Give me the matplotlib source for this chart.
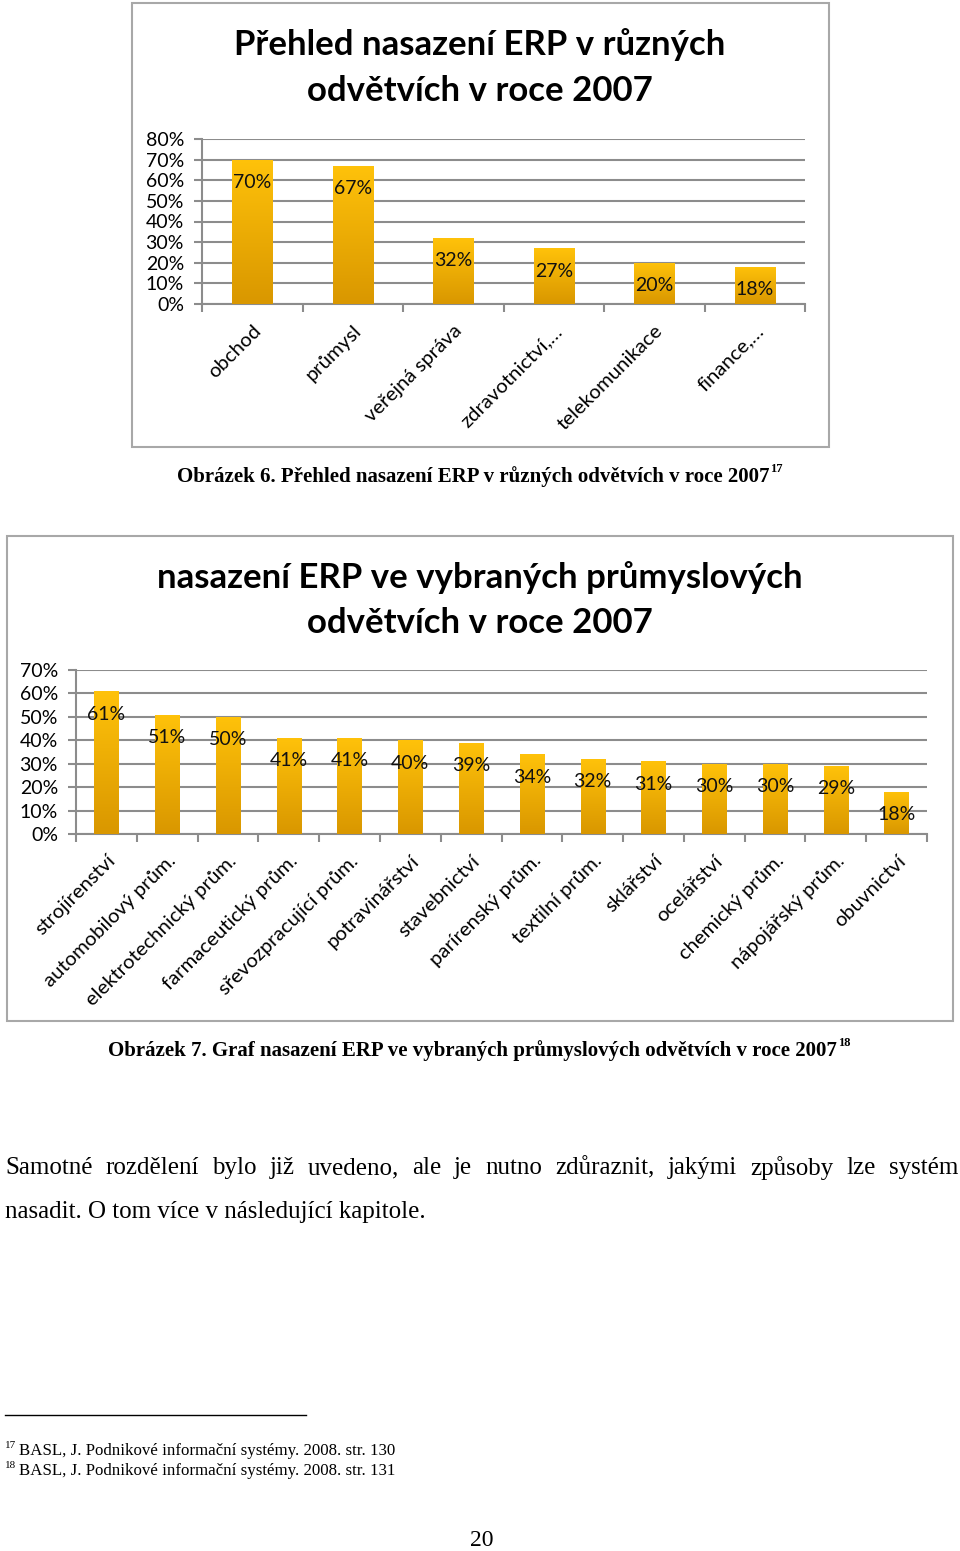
# -*- coding: utf-8 -*-
"""
Page with two ERP deployment bar charts (Czech thesis page)
"""
import matplotlib.pyplot as plt
import numpy as np
from matplotlib.patches import Rectangle

W, H, dpi = 960, 1551, 100
chart_font = ['Lato', 'DejaVu Sans']
page_font = ['Liberation Serif', 'DejaVu Serif']

# chart 1 data
sectors = ['obchod', 'průmysl', 'veřejná správa', 'zdravotnictví,…',
           'telekomunikace', 'finance,…']
sector_share = [70, 67, 32, 27, 20, 18]

# chart 2 data
industries = ['strojírenství', 'automobilový prům.', 'elektrotechnický prům.',
              'farmaceutický prům.', 'sřevozpracující prům.', 'potravinářství',
              'stavebnictví', 'parírenský prům.', 'textilní prům.', 'sklářství',
              'ocelářství', 'chemický prům.', 'nápojářský prům.', 'obuvnictví']
industry_share = [61, 51, 50, 41, 41, 40, 39, 34, 32, 31, 30, 30, 29, 18]

title1 = ['Přehled nasazení ERP v různých', 'odvětvích v roce 2007']
title2 = ['nasazení ERP ve vybraných průmyslových', 'odvětvích v roce 2007']
caption1 = 'Obrázek 6. Přehled nasazení ERP v různých odvětvích v roce 2007'
caption2 = 'Obrázek 7. Graf nasazení ERP ve vybraných průmyslových odvětvích v roce 2007'
body1 = 'Samotné rozdělení bylo již uvedeno, ale je nutno zdůraznit, jakými způsoby lze systém'
body2 = 'nasadit. O tom více v následující kapitole.'
footnotes = [('17', 'BASL, J. Podnikové informační systémy. 2008. str. 130'),
             ('18', 'BASL, J. Podnikové informační systémy. 2008. str. 131')]

fig = plt.figure(figsize=(W / dpi, H / dpi), dpi=dpi)
fig.patch.set_facecolor('white')

# page layer in pixel coordinates
page = fig.add_axes([0, 0, 1, 1])
page.set_xlim(0, W)
page.set_ylim(H, 0)
page.axis('off')
renderer = fig.canvas.get_renderer()


def right_edge(t):
    return t.get_window_extent(renderer=renderer).x1


def px_axes(left, top, right, bottom):
    return fig.add_axes([left / W, 1 - bottom / H, (right - left) / W, (bottom - top) / H])


grad = np.linspace(0, 1, 256).reshape(-1, 1)
cmap = plt.matplotlib.colors.LinearSegmentedColormap.from_list('gold', ['#D99700', '#FFC20A'])


def bar_chart(ax, labels, values, ymax, fs_y, fs_x, fs_lab):
    x = np.arange(len(values))
    bars = ax.bar(x, [v / 100 for v in values], width=0.4, color='#F5B400', zorder=2)
    for b in bars:
        im = ax.imshow(grad, cmap=cmap, origin='lower', aspect='auto', zorder=3,
                       extent=[b.get_x(), b.get_x() + b.get_width(), 0, b.get_height()])
        im.set_clip_path(b)
    for xi, v in zip(x, values):
        ax.annotate(f'{v}%', (xi, v / 100), xytext=(0, -16.5), textcoords='offset points',
                    ha='center', va='center', fontsize=fs_lab, family=chart_font,
                    color='#111111', zorder=5)
    ax.set_xlim(-0.5, len(values) - 0.5)
    ax.set_ylim(0, ymax)
    ax.set_yticks(np.arange(0, ymax + 0.001, 0.1))
    ax.set_yticklabels([f'{int(round(t * 100))}%' for t in np.arange(0, ymax + 0.001, 0.1)],
                       fontsize=fs_y, family=chart_font)
    ax.yaxis.grid(True, color='#8C8C8C', linewidth=1.5, zorder=1)
    ax.set_axisbelow(True)
    ax.set_xticks(x)
    ax.set_xticklabels(labels, rotation=45, ha='right', rotation_mode='anchor',
                       fontsize=fs_x, family=chart_font)
    ax.set_xticks(np.arange(-0.5, len(values)), minor=True)
    ax.tick_params(axis='x', which='major', length=0, pad=13)
    ax.tick_params(axis='x', which='minor', length=6, color='#8C8C8C', width=1.5)
    ax.tick_params(axis='y', length=6, color='#8C8C8C', width=1.5, pad=7)
    for s in ['top', 'right']:
        ax.spines[s].set_visible(False)
    for s in ['left', 'bottom']:
        ax.spines[s].set_color('#8C8C8C')
        ax.spines[s].set_linewidth(1.5)
    ax.set_facecolor('none')


# chart frames
page.add_patch(Rectangle((132, 3), 697, 444, fill=False, edgecolor='#A8A8A8', lw=1.5))
page.add_patch(Rectangle((7, 536), 946, 485, fill=False, edgecolor='#A8A8A8', lw=1.5))

ax1 = px_axes(202, 139, 805, 304)
bar_chart(ax1, sectors, sector_share, 0.8, 14, 14.6, 14)
for line, y in zip(title1, [45, 91]):
    page.text(480, y, line, ha='center', va='center', fontsize=25, fontweight='bold',
              family=chart_font)

ax2 = px_axes(76, 670, 927, 834)
bar_chart(ax2, industries, industry_share, 0.7, 14, 14.6, 14)
for line, y in zip(title2, [578, 623]):
    page.text(480, y, line, ha='center', va='center', fontsize=25, fontweight='bold',
              family=chart_font)

# captions with superscripts
for cap, num, cx, cy in [(caption1, '17', 177, 477), (caption2, '18', 108, 1051)]:
    t = page.text(cx, cy, cap, ha='left', va='center', fontsize=15, fontweight='bold',
                  family=page_font)
    page.text(right_edge(t) + 1, cy - 8, num, ha='left', va='center', fontsize=9,
              fontweight='bold', family=page_font)

# justified body text
words = body1.split()
ws = []
for w in words:
    t = page.text(0, 0, w, fontsize=18, family=page_font)
    ws.append(t.get_window_extent(renderer=renderer).width)
    t.remove()
gap = (958 - 5 - sum(ws)) / (len(words) - 1)
xpos = 5
for w, wd in zip(words, ws):
    page.text(xpos, 1168, w, ha='left', va='center', fontsize=18, family=page_font)
    xpos += wd + gap
page.text(5, 1212, body2, ha='left', va='center', fontsize=18, family=page_font)

# footnotes
page.plot([5, 306], [1415, 1415], color='black', lw=1)
for i, (num, note) in enumerate(footnotes):
    y = 1451 + i * 20
    page.text(5, y - 5, num, ha='left', va='center', fontsize=8, family=page_font)
    page.text(19, y, note, ha='left', va='center', fontsize=12.2, family=page_font)
page.text(482, 1540, '20', ha='center', va='center', fontsize=17, family=page_font)

fig.savefig('out.png', dpi=dpi)
plt.close(fig)
